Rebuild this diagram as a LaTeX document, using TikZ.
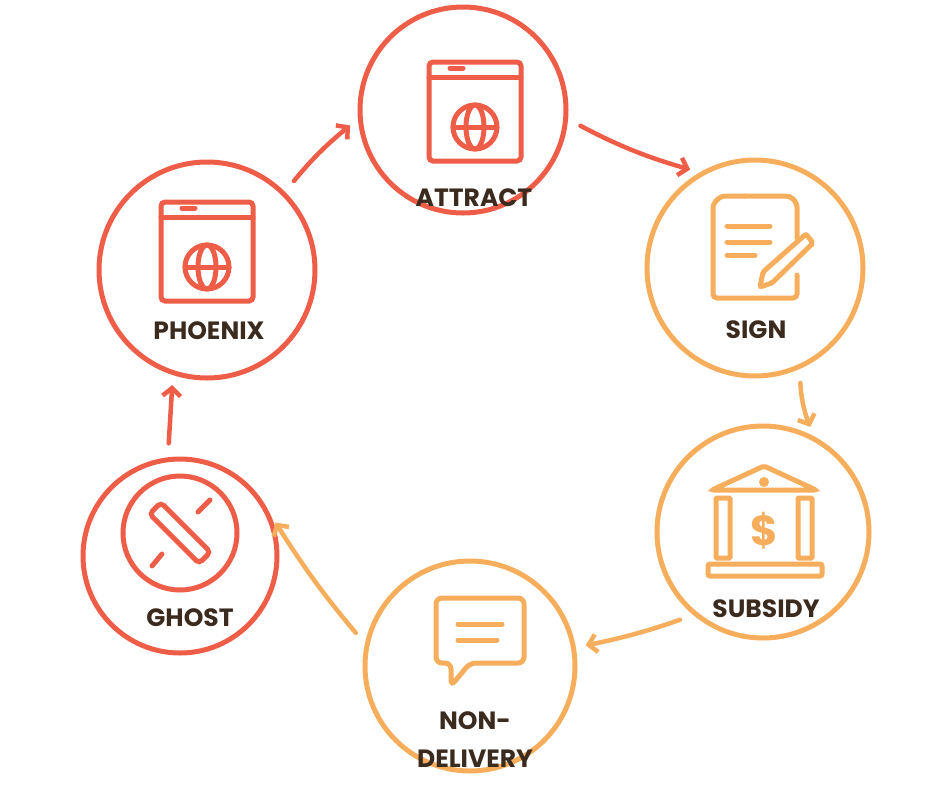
\documentclass[tikz,border=0pt]{standalone}
\usepackage{fontspec}
\setmainfont{Poppins}
\usetikzlibrary{arrows.meta}
\definecolor{redc}{HTML}{EE5D47}
\definecolor{orc}{HTML}{F6AE5C}
\definecolor{txt}{HTML}{3B2A1E}
\begin{document}
\begin{tikzpicture}[x=1pt, y=-1pt,
  stage/.style={draw, circle, line width=5pt, inner sep=0pt},
  lbl/.style={text=txt, font=\bfseries\fontsize{25}{28}\selectfont, align=center},
  icon/.style={line width=5pt, rounded corners=4pt, line cap=round},
  arrow/.style={draw, line width=4.5pt, line cap=round, shorten <=14pt, shorten >=10pt, -{Straight Barb[length=8pt,width=18pt]}}]
    \useasboundingbox (0,0) rectangle (940,788);
    % circles
    \node[stage, redc, minimum size=206pt] (attract) at (463,110) {};
    \node[stage, orc, minimum size=216pt] (sign) at (755,268) {};
    \node[stage, orc, minimum size=212pt] (subsidy) at (763,532) {};
    \node[stage, orc, minimum size=210pt] (nondel) at (470,666) {};
    \node[stage, redc, minimum size=194pt] (ghost) at (180,556) {};
    \node[stage, redc, minimum size=216pt] (phoenix) at (207,270) {};

    % labels
    \node[lbl] (lattract) at (474,198) {ATTRACT};
    \node[lbl] (lsign) at (756,330) {SIGN};
    \node[lbl] (lsubsidy) at (766,609) {SUBSIDY};
    \node[lbl, font=\bfseries\fontsize{25}{38}\selectfont] (lnondel) at (475,740) {NON-\\DELIVERY};
    \node[lbl] (lghost) at (190,618) {GHOST};
    \node[lbl] (lphoenix) at (209,331) {PHOENIX};

    % browser icons
    \foreach \cx/\cy in {475/110, 207/250} {
      \draw[icon, redc] (\cx-46,\cy-48) rectangle (\cx+46,\cy+51);
      \draw[icon, redc] (\cx-46,\cy-33) -- (\cx+46,\cy-33);
      \draw[icon, redc] (\cx-25,\cy-42) -- (\cx-12,\cy-42);
      \draw[icon, redc] (\cx,\cy+17) circle (22pt);
      \draw[icon, redc] (\cx,\cy+17) ellipse (9pt and 22pt);
      \draw[icon, redc] (\cx-22,\cy+17) -- (\cx+22,\cy+17);
    }

    % document icon
    \draw[icon, orc] (745,196) -- (790,196) -- (797,203) -- (797,238);
    \draw[icon, orc] (797,275) -- (797,298) -- (713,298) -- (713,204) -- (721,196) -- (745,196);
    \draw[icon, orc] (727,226) -- (770,226) (727,242) -- (770,242) (727,255) -- (755,255);
    \draw[icon, orc, rounded corners=2pt] (760,287) -- (763,272) -- (806,234) -- (813,243) -- (772,283) -- cycle;

    % bank icon
    \draw[icon, orc, rounded corners=2pt] (712,490) -- (764,466) -- (816,490) -- cycle;
    \fill[orc] (764,482) circle (5pt);
    \draw[icon, orc, rounded corners=1pt] (716,498) rectangle (730,558) (798,498) rectangle (812,558);
    \draw[icon, orc, rounded corners=2pt] (708,564) rectangle (822,576);
    \node[text=orc, font=\bfseries\fontsize{42}{44}\selectfont] (dollar) at (764,531) {\$};

    % speech bubble icon
    \draw[icon, orc, rounded corners=6pt] (436,598) -- (524,598) -- (524,663) -- (470,663) -- (451,686) -- (451,663) -- (436,663) -- cycle;
    \draw[icon, orc] (458,624) -- (502,624) (458,640) -- (497,640);

    % ghost icon
    \draw[icon, redc] (180,533) circle (57pt);
    \draw[icon, redc, rotate around={-45:(180,533)}] (145,525) rectangle (215,541);
    \draw[icon, redc] (198,512) -- (210,500) (162,554) -- (152,566);

    % arrows
    \draw[arrow, redc] (phoenix.45) to[bend left=6] (attract.185);
    \draw[arrow, redc] (attract.-5) to[bend right=6] (sign.120);
    \draw[arrow, orc] (sign.-66) to[bend right=10] (subsidy.62);
    \draw[arrow, orc] (subsidy.-130) to[bend left=4] (nondel.10);
    \draw[arrow, orc] (nondel.168) to[bend left=4] (ghost.25);
    \draw[arrow, redc] (ghost.97) -- (phoenix.-108);
\end{tikzpicture}
\end{document}
